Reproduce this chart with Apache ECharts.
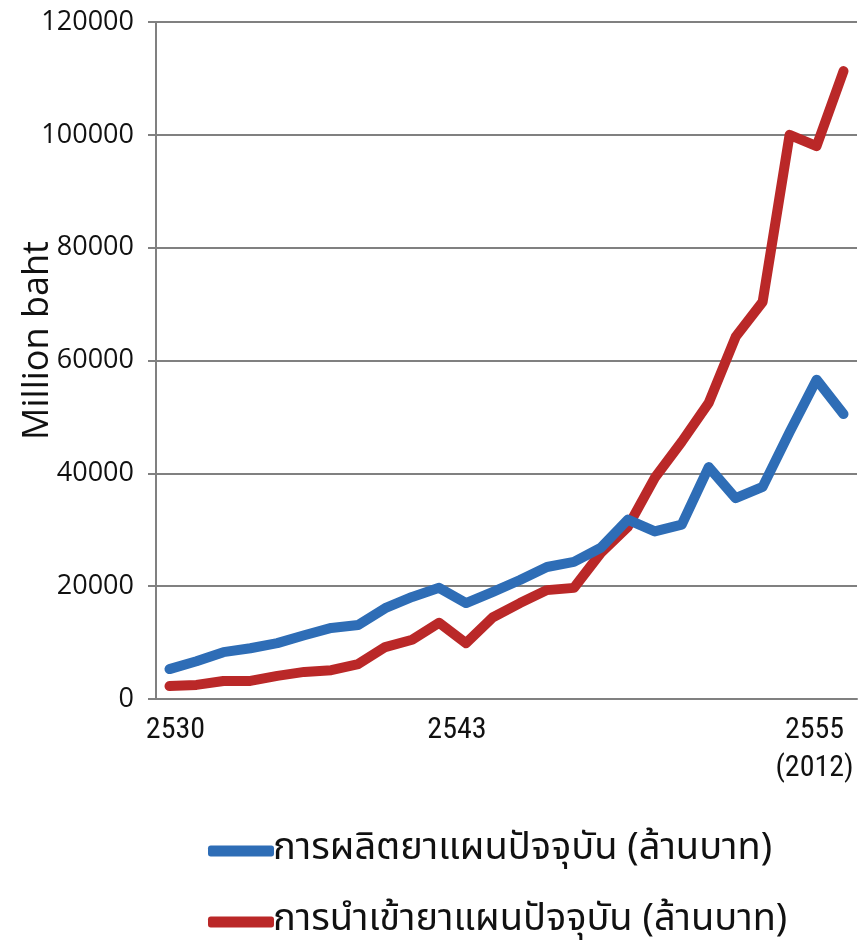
<!DOCTYPE html>
<html>
<head>
<meta charset="utf-8">
<script src="https://cdn.jsdelivr.net/npm/echarts@6/dist/echarts.min.js"></script>
<style>
html,body{margin:0;padding:0;background:#fff;}
#chart{width:868px;height:947px;}
</style>
</head>
<body>
<div id="chart"></div>
<script>
const years = ['2530','2531','2532','2533','2534','2535','2536','2537','2538','2539','2540','2541','2542','2543','2544','2545','2546','2547','2548','2549','2550','2551','2552','2553','2554','2555'];
const production = [5300,6700,8300,9000,9900,11300,12600,13100,16100,18100,19700,17000,19000,21100,23400,24300,26800,31800,29700,30900,41100,35600,37600,47300,56600,50500];
const imports = [2300,2500,3200,3200,4100,4800,5100,6200,9200,10500,13500,9900,14500,17000,19300,19700,25900,30500,39200,45600,52500,64200,70400,100000,98000,111300];
const seriesNames = ['การผลิตยาแผนปัจจุบัน (ล้านบาท)','การนำเข้ายาแผนปัจจุบัน (ล้านบาท)'];
const shownTicks = {'2530':'{a|2530}','2543':'{b|2543}','2555':'{c|2555}\n{c|(2012)}'};
const yTitle = 'Million baht';

const xFont = '"Liberation Sans Narrow","Roboto Condensed","Liberation Sans",sans-serif';
const chart = echarts.init(document.getElementById('chart'));
chart.setOption({
  animation:false,
  backgroundColor:'#ffffff',
  grid:{left:156,right:11,top:22,bottom:248,containLabel:false,outerBoundsMode:'none'},
  xAxis:{
    type:'category',
    data:years,
    boundaryGap:true,
    axisLine:{lineStyle:{color:'#808080',width:2}},
    axisTick:{show:false},
    axisLabel:{
      interval:0,
      margin:12,
      color:'#111',
      fontFamily:xFont,
      fontSize:30,
      lineHeight:38,
      hideOverlap:false,
      formatter:function(v){return shownTicks[v]||'';},
      rich:{
        a:{fontFamily:xFont,fontSize:30,color:'#111',padding:[0,0,0,12]},
        b:{fontFamily:xFont,fontSize:30,color:'#111',padding:[0,126,0,0]},
        c:{fontFamily:xFont,fontSize:30,color:'#111',lineHeight:38,padding:[0,58,0,0]}
      }
    },
    splitLine:{show:false}
  },
  yAxis:{
    type:'value',
    min:0,max:120000,interval:20000,
    name:yTitle,
    nameLocation:'middle',
    nameGap:100,
    nameRotate:90,
    nameMoveOverlap:false,
    nameTextStyle:{fontFamily:'"Open Sans",sans-serif',fontSize:36,color:'#111',padding:[0,0,0,40]},
    axisLine:{show:true,lineStyle:{color:'#808080',width:2}},
    axisTick:{show:true,length:8,lineStyle:{color:'#808080',width:2}},
    axisLabel:{margin:22,color:'#111',fontFamily:'"Open Sans",sans-serif',fontSize:27,
      formatter:function(v){return String(v);}},
    splitLine:{lineStyle:{color:'#808080',width:2}}
  },
  legend:{
    orient:'vertical',
    left:203,
    top:827,
    itemGap:33,
    itemWidth:66,
    itemHeight:11,
    icon:'roundRect',
    textStyle:{fontSize:38,color:'#111',fontFamily:'"Noto Sans Thai","Noto Sans","DejaVu Sans",sans-serif',padding:[0,0,0,-6]},
    data:seriesNames
  },
  series:[
    {name:seriesNames[0],type:'line',data:production,symbol:'none',color:'#2E6DB6',
     lineStyle:{width:10,color:'#2E6DB6',cap:'round',join:'round'},z:3},
    {name:seriesNames[1],type:'line',data:imports,symbol:'none',color:'#BA2828',
     lineStyle:{width:10,color:'#BA2828',cap:'round',join:'round'},z:2}
  ]
});
</script>
</body>
</html>
